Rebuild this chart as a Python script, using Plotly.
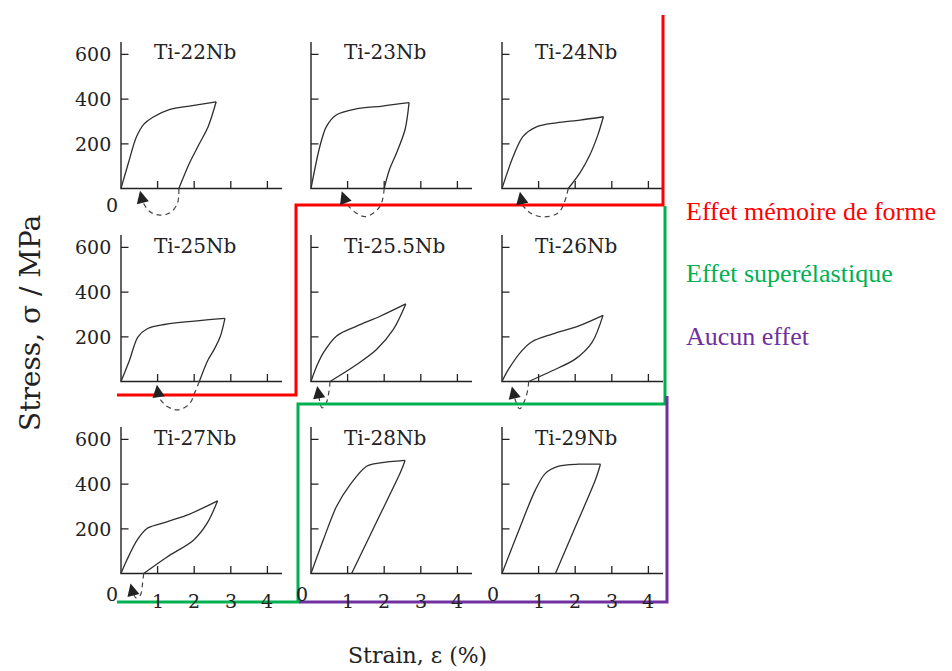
import plotly.graph_objects as go

# ---------------- data ----------------
titles = ["Ti-22Nb", "Ti-23Nb", "Ti-24Nb",
          "Ti-25Nb", "Ti-25.5Nb", "Ti-26Nb",
          "Ti-27Nb", "Ti-28Nb", "Ti-29Nb"]

# strain (%) / stress (MPa) - loading branches
ti22_load_x = [0, 0.2, 0.42, 0.62, 0.87, 1.32, 1.95, 2.6]
ti22_load_y = [0, 113, 230, 287, 319, 353, 371, 388]
ti23_load_x = [0, 0.24, 0.42, 0.69, 1.23, 1.95, 2.68]
ti23_load_y = [0, 187, 277, 329, 356, 369, 384]
ti24_load_x = [0, 0.31, 0.58, 0.94, 1.49, 2.13, 2.77]
ti24_load_y = [0, 145, 234, 276, 294, 306, 321]
ti25_load_x = [0, 0.23, 0.46, 0.73, 1.18, 2.0, 2.84]
ti25_load_y = [0, 94, 199, 237, 255, 270, 282]
ti255_load_x = [0, 0.16, 0.34, 0.70, 1.25, 1.89, 2.59]
ti255_load_y = [0, 70, 129, 204, 248, 292, 347]
ti26_load_x = [0, 0.18, 0.54, 0.82, 1.37, 2.10, 2.76]
ti26_load_y = [0, 55, 137, 178, 212, 249, 296]
ti27_load_x = [0, 0.16, 0.44, 0.71, 1.07, 1.80, 2.64]
ti27_load_y = [0, 60, 149, 201, 222, 261, 325]
ti28_load_x = [0, 0.34, 0.70, 1.07, 1.52, 1.89, 2.57]
ti28_load_y = [0, 152, 301, 398, 480, 495, 506]
ti29_load_x = [0, 0.46, 0.91, 1.18, 1.55, 2.10, 2.69]
ti29_load_y = [0, 194, 373, 447, 480, 489, 489]

# unloading branches
ti22_unload_x = [2.6, 2.38, 2.14, 1.86, 1.58]
ti22_unload_y = [388, 276, 200, 110, 0]
ti23_unload_x = [2.68, 2.57, 2.34, 2.14, 2.0]
ti23_unload_y = [384, 264, 160, 83, 0]
ti24_unload_x = [2.77, 2.62, 2.40, 2.13, 1.81]
ti24_unload_y = [321, 240, 150, 70, 0]
ti25_unload_x = [2.84, 2.72, 2.55, 2.37, 2.14]
ti25_unload_y = [282, 205, 145, 94, 0]
ti255_unload_x = [2.59, 2.25, 1.79, 1.25, 0.52]
ti255_unload_y = [347, 233, 143, 76, 0]
ti26_unload_x = [2.76, 2.46, 2.0, 1.37, 0.73]
ti26_unload_y = [296, 175, 100, 48, 0]
ti27_unload_x = [2.64, 2.35, 1.98, 1.26, 0.62]
ti27_unload_y = [325, 224, 149, 74, 0]
ti28_unload_x = [2.57, 2.45, 1.8, 1.11]
ti28_unload_y = [506, 455, 234, 0]
ti29_unload_x = [2.69, 2.55, 2.0, 1.46]
ti29_unload_y = [489, 418, 207, 0]

# dashed recovery loops (heating) and arrow tips
ti22_rec_x = [1.58, 1.54, 1.34, 1.07, 0.79, 0.59]
ti22_rec_y = [0, -67, -109, -119, -104, -59]
ti23_rec_x = [2.0, 1.88, 1.48, 1.07, 0.9]
ti23_rec_y = [0, -81, -126, -87, -40]
ti24_rec_x = [1.81, 1.70, 1.54, 1.17, 0.81, 0.56]
ti24_rec_y = [0, -64, -109, -127, -113, -75]
ti25_rec_x = [2.14, 2.02, 1.87, 1.55, 1.23, 1.03]
ti25_rec_y = [0, -48, -100, -127, -108, -70]
ti255_rec_x = [0.52, 0.49, 0.42, 0.30, 0.22]
ti255_rec_y = [0, -45, -95, -118, -70]
ti26_rec_x = [0.73, 0.70, 0.62, 0.48, 0.34]
ti26_rec_y = [0, -40, -85, -122, -70]
ti27_rec_x = [0.62, 0.59, 0.53, 0.42, 0.32]
ti27_rec_y = [0, -42, -97, -110, -85]
arrow_tip_x = [0.52, 0.84, 0.49, 0.98, 0.17, 0.27, 0.26, None, None]
arrow_tip_y = [-10, -12, -15, -15, -20, -22, -45, None, None]

strain_ticks = [1, 2, 3, 4]
stress_ticks = [200, 400, 600]
stress_tick_labels = ["200", "400", "600"]

effects = ["Effet mémoire de forme", "Effet superélastique", "Aucun effet"]
effect_colors = ["#ff0000", "#00b050", "#7030a0"]

load_x = [ti22_load_x, ti23_load_x, ti24_load_x, ti25_load_x, ti255_load_x,
          ti26_load_x, ti27_load_x, ti28_load_x, ti29_load_x]
load_y = [ti22_load_y, ti23_load_y, ti24_load_y, ti25_load_y, ti255_load_y,
          ti26_load_y, ti27_load_y, ti28_load_y, ti29_load_y]
unload_x = [ti22_unload_x, ti23_unload_x, ti24_unload_x, ti25_unload_x, ti255_unload_x,
            ti26_unload_x, ti27_unload_x, ti28_unload_x, ti29_unload_x]
unload_y = [ti22_unload_y, ti23_unload_y, ti24_unload_y, ti25_unload_y, ti255_unload_y,
            ti26_unload_y, ti27_unload_y, ti28_unload_y, ti29_unload_y]
rec_x = [ti22_rec_x, ti23_rec_x, ti24_rec_x, ti25_rec_x, ti255_rec_x,
         ti26_rec_x, ti27_rec_x, None, None]
rec_y = [ti22_rec_y, ti23_rec_y, ti24_rec_y, ti25_rec_y, ti255_rec_y,
         ti26_rec_y, ti27_rec_y, None, None]

# ---------------- layout geometry ----------------
W, H = 952, 671
COL_OX = [121, 311, 502]        # pixel x of each panel origin
ROW_OY = [188.5, 381.5, 573.5]  # pixel y of each panel origin
SX = 36.6     # px per 1 % strain
SY = 0.2235   # px per MPa
X_END = 4.4
Y_END = 655
LEFT_PAD, RIGHT_PAD, BELOW_PAD, ABOVE_PAD = 20, 180, 33, 158

PANEL_FONT = "DejaVu Serif"
LEGEND_FONT = "Liberation Serif"
INK = "#222222"
CURVE = "#2e2e2e"


def fx(px):
    return px / W


def fy(py):
    return 1 - py / H


fig = go.Figure()
annotations = []

for i in range(9):
    r, c = divmod(i, 3)
    ox, oy = COL_OX[c], ROW_OY[r]
    n = "" if i == 0 else str(i + 1)
    xa, ya = "x" + n, "y" + n
    fig.layout["xaxis" + n] = dict(
        domain=[fx(ox - LEFT_PAD), fx(ox + RIGHT_PAD)],
        range=[-LEFT_PAD / SX, RIGHT_PAD / SX], anchor=ya,
        showgrid=False, zeroline=False, showline=False,
        showticklabels=False, ticks="", fixedrange=True)
    fig.layout["yaxis" + n] = dict(
        domain=[fy(oy + BELOW_PAD), fy(oy - ABOVE_PAD)],
        range=[-BELOW_PAD / SY, ABOVE_PAD / SY], anchor=xa,
        showgrid=False, zeroline=False, showline=False,
        showticklabels=False, ticks="", fixedrange=True)

    # axis lines
    fig.add_trace(go.Scatter(x=[0, 0, X_END], y=[Y_END, 0, 0], mode="lines",
                             line=dict(color=INK, width=1.4), xaxis=xa, yaxis=ya,
                             hoverinfo="skip", showlegend=False))
    # tick marks (inside)
    tx, ty = [], []
    for t in strain_ticks:
        tx += [t, t, None]
        ty += [0, 7.5 / SY, None]
    for t in stress_ticks:
        tx += [0, 7.5 / SX, None]
        ty += [t, t, None]
    fig.add_trace(go.Scatter(x=tx, y=ty, mode="lines",
                             line=dict(color=INK, width=1.3), xaxis=xa, yaxis=ya,
                             hoverinfo="skip", showlegend=False))
    # curves
    fig.add_trace(go.Scatter(x=load_x[i], y=load_y[i], mode="lines",
                             line=dict(color=CURVE, width=1.3, shape="spline", smoothing=0.9),
                             xaxis=xa, yaxis=ya, showlegend=False, name=titles[i]))
    fig.add_trace(go.Scatter(x=unload_x[i], y=unload_y[i], mode="lines",
                             line=dict(color=CURVE, width=1.3, shape="spline", smoothing=0.9),
                             xaxis=xa, yaxis=ya, showlegend=False, name=titles[i]))
    if rec_x[i] is not None:
        fig.add_trace(go.Scatter(x=rec_x[i], y=rec_y[i], mode="lines",
                                 line=dict(color="#444444", width=1.2, dash="5px,4px",
                                           shape="spline", smoothing=1.0),
                                 xaxis=xa, yaxis=ya, showlegend=False, hoverinfo="skip"))
        annotations.append(dict(
            x=arrow_tip_x[i], y=arrow_tip_y[i], xref=xa, yref=ya,
            ax=rec_x[i][-1], ay=rec_y[i][-1], axref=xa, ayref=ya,
            text="", showarrow=True, arrowhead=2, arrowsize=1.9,
            arrowwidth=1.3, arrowcolor=INK, standoff=0))

    # panel title
    annotations.append(dict(x=31 / SX, y=136 / SY, xref=xa, yref=ya, text=titles[i],
                            showarrow=False, xanchor="left", yanchor="middle",
                            font=dict(family=PANEL_FONT, size=20, color=INK)))
    # stress tick labels on first column
    if c == 0:
        for t, lab in zip(stress_ticks, stress_tick_labels):
            annotations.append(dict(x=0, y=t, xref=xa, yref=ya, text=lab, showarrow=False,
                                    xanchor="right", yanchor="middle", xshift=-8,
                                    font=dict(family=PANEL_FONT, size=19, color=INK)))
    # zero labels
    if (r == 0 and c == 0) or r == 2:
        annotations.append(dict(x=0, y=0, xref=xa, yref=ya, text="0", showarrow=False,
                                xanchor="center", yanchor="middle", xshift=-9,
                                yshift=-17 if r == 0 else -20,
                                font=dict(family=PANEL_FONT, size=19, color=INK)))
    # strain tick labels on bottom row
    if r == 2:
        for t in strain_ticks:
            annotations.append(dict(x=t, y=0, xref=xa, yref=ya, text=str(t), showarrow=False,
                                    xanchor="center", yanchor="middle", yshift=-27,
                                    font=dict(family=PANEL_FONT, size=19, color=INK)))

# axis titles
annotations.append(dict(x=fx(30), y=fy(323), xref="paper", yref="paper",
                        text="Stress, σ / MPa", textangle=-90, showarrow=False,
                        xanchor="center", yanchor="middle",
                        font=dict(family=PANEL_FONT, size=28, color=INK)))
annotations.append(dict(x=fx(417), y=fy(655), xref="paper", yref="paper",
                        text="Strain, ε (%)", showarrow=False,
                        xanchor="center", yanchor="middle",
                        font=dict(family=PANEL_FONT, size=22, color=INK)))

# effect labels
effect_y_px = [211, 273, 336]
for txt, col, py in zip(effects, effect_colors, effect_y_px):
    annotations.append(dict(x=fx(684), y=fy(py), xref="paper", yref="paper", text=txt,
                            showarrow=False, xanchor="left", yanchor="middle",
                            font=dict(family=LEGEND_FONT, size=26, color=col)))

# region boundaries
boundaries = [
    [(663, 15), (663, 205), (296, 205), (296, 395), (117, 395)],
    [(665, 206), (665, 404), (298, 404), (298, 602), (117, 602)],
    [(667, 396), (667, 602), (299, 602)],
]
shapes = []
for pts, col in zip(boundaries, effect_colors):
    path = "M " + " L ".join(f"{fx(px):.5f},{fy(py):.5f}" for px, py in pts)
    shapes.append(dict(type="path", xref="paper", yref="paper", path=path,
                       line=dict(color=col, width=3)))

fig.update_layout(width=W, height=H, autosize=False,
                  margin=dict(l=0, r=0, t=0, b=0),
                  paper_bgcolor="white", plot_bgcolor="rgba(0,0,0,0)",
                  annotations=annotations, shapes=shapes, showlegend=False)

fig.write_html("out.html",
               config={"displayModeBar": False},
               post_script="document.body.style.margin='0';"
                           "document.body.style.overflow='hidden';")
